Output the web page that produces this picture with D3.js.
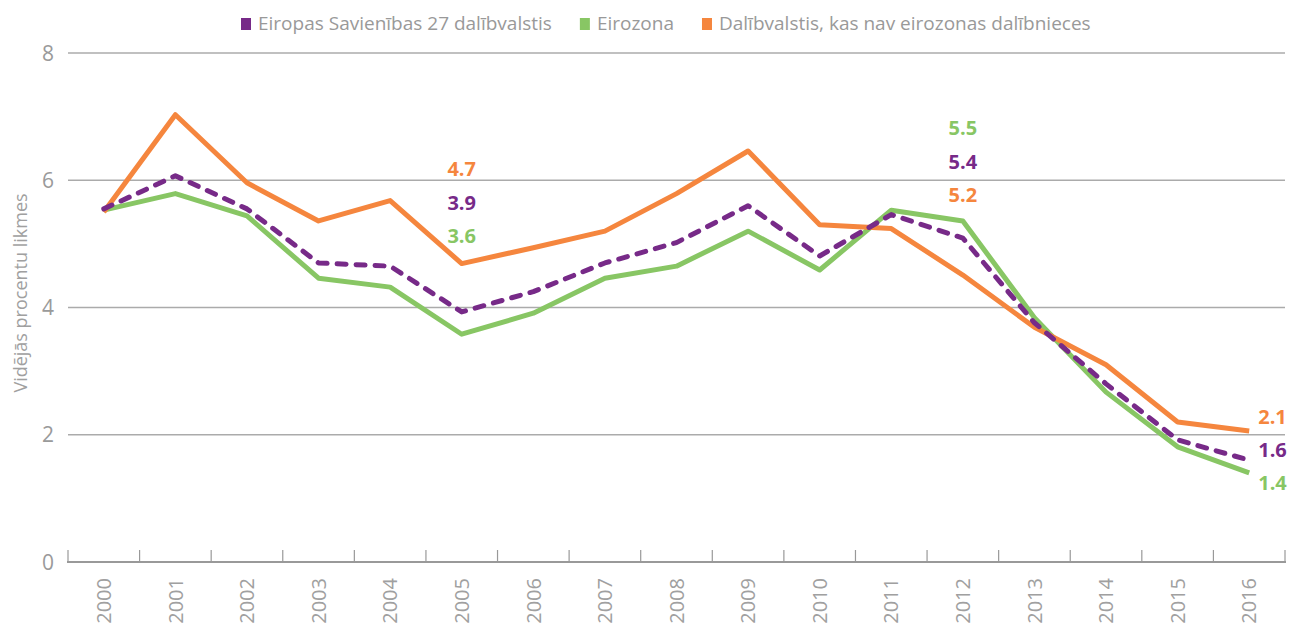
<!DOCTYPE html>
<html><head><meta charset="utf-8">
<script src="https://cdn.jsdelivr.net/npm/d3@7"></script>
<style>body{margin:0;background:#fff}svg{display:block}text{font-family:"Open Sans",sans-serif}</style>
</head><body><svg id="c" width="1298" height="624"></svg>
<script>
const years = ["2000","2001","2002","2003","2004","2005","2006","2007","2008","2009","2010","2011","2012","2013","2014","2015","2016"];
const eu27 = [5.55,6.07,5.55,4.70,4.65,3.93,4.25,4.70,5.02,5.60,4.81,5.46,5.09,3.76,2.80,1.92,1.60];
const euro = [5.53,5.79,5.44,4.46,4.32,3.58,3.91,4.46,4.65,5.20,4.59,5.53,5.36,3.84,2.67,1.81,1.40];
const nonEuro = [5.50,7.03,5.96,5.36,5.68,4.69,4.94,5.20,5.79,6.46,5.30,5.24,4.51,3.69,3.10,2.20,2.06];
const yTicks = [0,2,4,6,8];
const seriesNames = ["Eiropas Savienības 27 dalībvalstis","Eirozona","Dalībvalstis, kas nav eirozonas dalībnieces"];
const colors = ["#772a88","#88c664","#f5863e"];
// annotation labels: [year, value text, series index, row]
const annotations = [
  ["2005","4.7",2,0],["2005","3.9",0,1],["2005","3.6",1,2],
  ["2012","5.5",1,0],["2012","5.4",0,1],["2012","5.2",2,2]
];
const endLabels = [["2.1",2],["1.6",0],["1.4",1]];

const svg = d3.select("#c");
const L=68,R=1285,T=53,B=562;
const x = d3.scaleBand().domain(years).range([L,R]);
const y = d3.scaleLinear().domain([0,8]).range([B,T]);

// gridlines
svg.append("g").selectAll("line").data(yTicks.filter(d=>d>0)).join("line")
  .attr("x1",L).attr("x2",R).attr("y1",d=>y(d)).attr("y2",d=>y(d))
  .attr("stroke","#ababab").attr("stroke-width",1.5);
// y labels
svg.append("g").selectAll("text").data(yTicks).join("text")
  .attr("x",54).attr("y",d=>y(d)+7.5).attr("text-anchor","end")
  .attr("font-size",21).attr("fill","#9a9a9a").text(d=>d);
// y title
svg.append("text").attr("transform","translate(27,293) rotate(-90)")
  .attr("text-anchor","middle").attr("font-size",18).attr("fill","#a0a0a0")
  .text("Vidējās procentu likmes");

// x axis
const xAxis = d3.axisBottom(x).tickSize(0).tickPadding(0);
const gx = svg.append("g").attr("transform",`translate(0,${B})`).call(xAxis);
gx.select(".domain").remove();
gx.selectAll("text").attr("transform","rotate(-90)").attr("text-anchor","end")
  .attr("x",-16).attr("y",0).attr("dy","0.36em").attr("font-size",20).attr("fill","#a0a0a0")
  .attr("font-family","\"Open Sans\",sans-serif");
svg.append("line").attr("x1",L-1).attr("x2",R+1).attr("y1",B).attr("y2",B)
  .attr("stroke","#999").attr("stroke-width",2);
const bounds = years.map(d=>x(d)).concat([x(years[years.length-1])+x.bandwidth()]);
svg.append("g").selectAll("line").data(bounds).join("line")
  .attr("x1",d=>d).attr("x2",d=>d).attr("y1",B).attr("y2",B-12)
  .attr("stroke","#999").attr("stroke-width",1.2);

// lines
const cx = d=>x(d)+x.bandwidth()/2;
const line = d3.line().x((d,i)=>cx(years[i])).y(d=>y(d));
const all = [eu27,euro,nonEuro];
const order = [1,2,0];
order.forEach(i=>{
  const p = svg.append("path").datum(all[i]).attr("d",line).attr("fill","none")
    .attr("stroke",colors[i]).attr("stroke-width",5).attr("stroke-linejoin","round");
  if(i===0) p.attr("stroke-dasharray","9,10").attr("stroke-linecap","round");
});

// annotations
const rowY0 = {"2005":176,"2012":135};
svg.append("g").selectAll("text").data(annotations).join("text")
  .attr("x",d=>cx(d[0])).attr("y",d=>rowY0[d[0]]+d[3]*33.5)
  .attr("text-anchor","middle").attr("font-size",20).attr("font-weight","bold")
  .attr("fill",d=>colors[d[2]]).text(d=>d[1]);
svg.append("g").selectAll("text").data(endLabels).join("text")
  .attr("x",cx(years[16])+9).attr("y",(d,i)=>424+i*33)
  .attr("font-size",20).attr("font-weight","bold")
  .attr("fill",d=>colors[d[1]]).text(d=>d[0]);

// legend
const lg = svg.append("g");
const items = lg.selectAll("g").data(seriesNames).join("g");
items.append("rect").attr("y",18).attr("width",10).attr("height",12).attr("fill",(d,i)=>colors[i]);
items.append("text").attr("x",17).attr("y",30).attr("font-size",19).attr("fill","#999").text(d=>d);
let cur=241;
items.each(function(d,i){
  d3.select(this).attr("transform",`translate(${cur},0)`);
  cur += this.getBBox().width + 28;
});
</script></body></html>
